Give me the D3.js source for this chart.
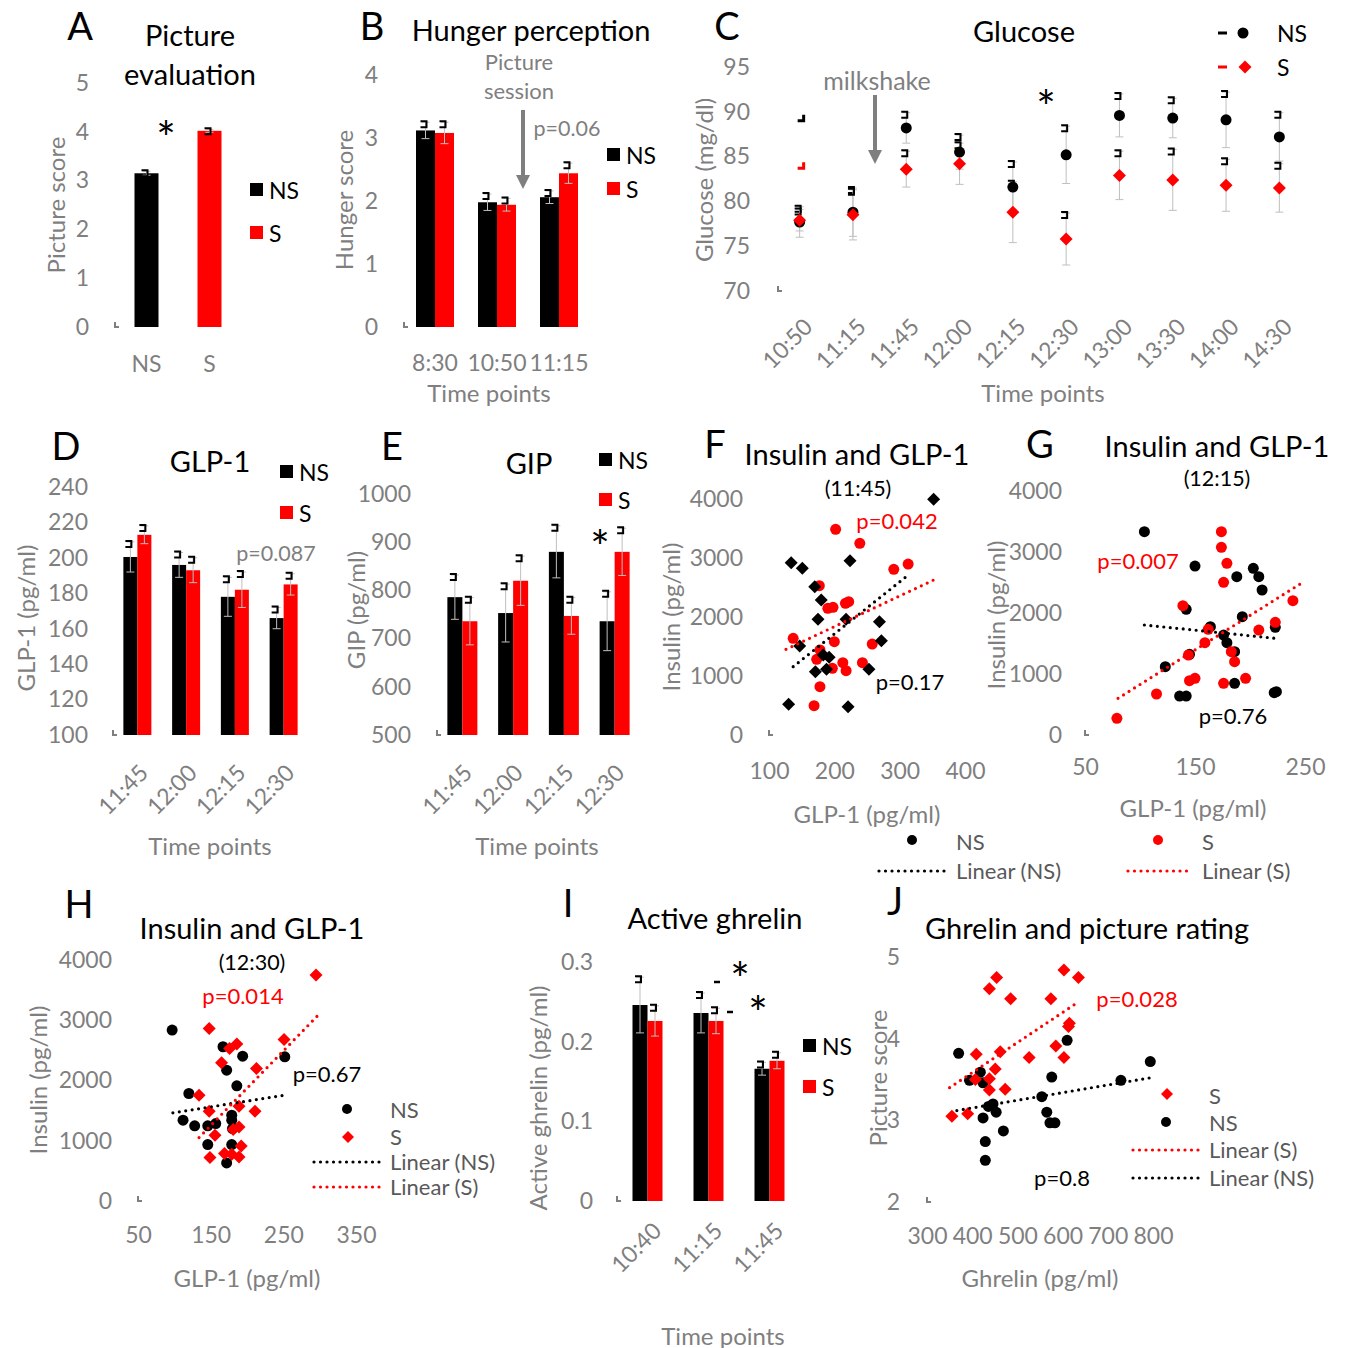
<!DOCTYPE html>
<html>
<head>
<meta charset="utf-8">
<title>Figure</title>
<script src="https://d3js.org/d3.v7.min.js"></script>
<style>body{margin:0;background:#fff}</style>
</head>
<body>
<script>
// ---------- data ----------
// A picture evaluation
var aGroups = ["NS", "S"];
var aScore = [3.15, 4.02];
var aErr = [0.04, 0.03];

// B hunger perception
var bTimes = ["8:30", "10:50", "11:15"];
var bNS = [3.12, 1.98, 2.06];
var bS = [3.08, 1.94, 2.44];
var bNSErr = [0.13, 0.13, 0.10];
var bSErr = [0.17, 0.10, 0.16];

// C glucose
var cTimes = ["10:50", "11:15", "11:45", "12:00", "12:15", "12:30", "13:00", "13:30", "14:00", "14:30"];
var cNS = [77.7, 78.8, 88.2, 85.5, 81.6, 85.2, 89.6, 89.3, 89.1, 87.2];
var cS = [77.9, 78.5, 83.6, 84.2, 78.8, 75.8, 82.9, 82.4, 81.8, 81.5];
var cNSErr = [1.7, 2.7, 1.7, 1.9, 2.8, 3.2, 2.4, 2.2, 3.1, 2.7];
var cSErr = [1.2, 2.8, 2.0, 2.3, 3.4, 2.9, 2.7, 3.4, 2.9, 2.7];

// D GLP-1
var dTimes = ["11:45", "12:00", "12:15", "12:30"];
var dNS = [200.5, 196, 178, 166];
var dS = [213, 193, 182, 185];
var dNSErr = [8.5, 7, 11, 6];
var dSErr = [5, 7, 10, 6];

// E GIP
var eTimes = ["11:45", "12:00", "12:15", "12:30"];
var eNS = [786, 753, 880, 736];
var eS = [736, 820, 747, 880];
var eNSErr = [46, 60, 54, 61];
var eSErr = [49, 51, 38, 49];

// F insulin vs GLP-1 (11:45)  [GLP-1, insulin]
var fNS = [[352, 3994], [134, 2921], [151, 2825], [224, 2955], [170, 2514], [180, 2288], [175, 1960],
  [218, 1960], [269, 1921], [272, 1599], [147, 1508], [183, 1356], [192, 1316], [171, 1073],
  [188, 1113], [253, 1113], [130, 520], [221, 480]];
var fS = [[202, 3486], [239, 3249], [291, 2808], [313, 2898], [177, 2531], [190, 2147], [198, 2164],
  [217, 2232], [222, 2260], [137, 1638], [200, 1582], [258, 1542], [178, 1441], [173, 1282],
  [197, 1130], [213, 1226], [218, 1090], [243, 1226], [178, 819], [169, 497]];
var fNSTrend = [[137, 1158], [310, 2684]];
var fSTrend = [[126, 1452], [352, 2627]];

// G insulin vs GLP-1 (12:15)
var gNS = [[104, 3333], [150, 2770], [188, 2596], [203, 2732], [208, 2596], [211, 2377], [142, 2060],
  [193, 1940], [164, 1776], [176, 1639], [179, 1514], [186, 1366], [223, 1765], [145, 1322],
  [123, 1120], [136, 639], [142, 639], [186, 847], [222, 694], [224, 710]];
var gS = [[174, 3333], [174, 3077], [179, 2814], [176, 2503], [139, 2120], [162, 1732], [159, 1514],
  [183, 1366], [186, 1202], [208, 1721], [223, 1847], [239, 2202], [145, 891], [150, 929],
  [176, 847], [196, 929], [115, 672], [79, 273], [144, 1311]];
var gNSTrend = [[104, 1803], [223, 1585]];
var gSTrend = [[80, 601], [248, 2503]];

// H insulin vs GLP-1 (12:30)
var hNS = [[97, 2837], [167, 2560], [194, 2404], [252, 2393], [172, 2172], [186, 1911], [120, 1784],
  [112, 1341], [128, 1247], [146, 1247], [157, 1285], [179, 1424], [179, 1341], [146, 936],
  [179, 936], [172, 632], [180, 1202]];
var hS = [[295, 3751], [148, 2864], [176, 2532], [186, 2604], [165, 2294], [251, 2681], [213, 2200],
  [134, 1756], [148, 1490], [189, 1573], [211, 1490], [156, 1091], [181, 1186], [189, 1230],
  [149, 720], [169, 787], [189, 731], [192, 914], [179, 776]];
var hNSTrend = [[98, 1463], [257, 1767]];
var hSTrend = [[134, 1053], [298, 3086]];

// I active ghrelin
var iTimes = ["10:40", "11:15", "11:45"];
var iNS = [0.246, 0.236, 0.166];
var iS = [0.226, 0.226, 0.176];
var iNSErr = [0.035, 0.025, 0.008];
var iSErr = [0.019, 0.016, 0.010];

// J ghrelin vs picture rating  [ghrelin, score]
var jS = [[355, 3.05], [390, 3.08], [409, 3.81], [438, 4.61], [454, 4.75], [485, 4.49], [574, 4.49],
  [603, 4.84], [635, 4.75], [615, 4.19], [613, 4.15], [585, 3.91], [603, 3.77], [526, 3.77],
  [462, 3.84], [451, 3.63], [438, 3.51], [438, 3.37], [407, 3.50], [473, 3.38]];
var jNS = [[370, 3.82], [394, 3.49], [418, 3.59], [424, 3.46], [446, 3.20], [436, 3.17], [453, 3.10],
  [424, 3.03], [469, 2.87], [429, 2.74], [429, 2.51], [554, 3.29], [576, 3.53], [565, 3.10],
  [572, 2.97], [583, 2.97], [610, 3.98], [729, 3.49], [794, 3.72]];
var jSTrend = [[350, 3.40], [635, 4.45]];
var jNSTrend = [[366, 3.12], [793, 3.52]];

// ---------- helpers ----------
var GRAY = "#7f7f7f", DARK = "#595959", RED = "#ff0000";
var FONT = "Lato, 'Open Sans', sans-serif";
var TITLE = 29, TICK = 23, AXT = 24;

var svg = d3.select("body").append("svg")
  .attr("width", 1347).attr("height", 1348)
  .style("font-family", FONT);

function text(x, y, s, size, color, anchor) {
  return svg.append("text").attr("x", x).attr("y", y)
    .attr("font-size", size).attr("fill", color || "#000")
    .attr("text-anchor", anchor || "middle").attr("dominant-baseline", "central")
    .text(s);
}
function star(x, y) {
  // asterisk glyph sits high in the em box, so shift down
  return text(x, y + 9, "*", 46, "#000");
}
function yTitle(x, y, s) {
  svg.append("text").attr("transform", "translate(" + x + "," + y + ") rotate(-90)")
    .attr("text-anchor", "middle").attr("dominant-baseline", "central")
    .attr("font-size", AXT).attr("fill", GRAY).text(s);
}
function originMark(x, y) {
  svg.append("path").attr("d", "M" + x + "," + (y - 5) + "V" + y + "H" + (x + 4))
    .attr("stroke", GRAY).attr("stroke-width", 2).attr("fill", "none");
}
function yAxis(scale, x, ticks, pad) {
  var g = svg.append("g").attr("transform", "translate(" + x + ",0)")
    .call(d3.axisLeft(scale).tickValues(ticks).tickSize(0).tickPadding(pad).tickFormat(function(d){ return String(d); }));
  g.select(".domain").remove();
  g.selectAll("text").attr("font-size", TICK).attr("fill", GRAY).attr("font-family", FONT);
}
function xAxis(scale, y, ticks, pad) {
  var g = svg.append("g").attr("transform", "translate(0," + y + ")")
    .call(d3.axisBottom(scale).tickValues(ticks).tickSize(0).tickPadding(pad).tickFormat(function(d){ return String(d); }));
  g.select(".domain").remove();
  g.selectAll("text").attr("font-size", TICK).attr("fill", GRAY).attr("font-family", FONT);
}
function slantLabels(xs, cats, y, dx) {
  svg.append("g").selectAll("text").data(cats).join("text")
    .attr("transform", function(d){ return "translate(" + (xs(d) + xs.bandwidth() / 2 + dx) + "," + y + ") rotate(-45)"; })
    .attr("text-anchor", "end").attr("dominant-baseline", "central")
    .attr("font-size", TICK).attr("fill", GRAY).text(function(d){ return d; });
}
function errBar(x, yLo, yHi) {
  svg.append("path")
    .attr("d", "M" + x + "," + yLo + "V" + yHi + "M" + (x - 4) + "," + yLo + "H" + (x + 4) + "M" + (x - 4) + "," + yHi + "H" + (x + 4))
    .attr("stroke", "#bfbfbf").attr("stroke-width", 1).attr("fill", "none");
  svg.append("path")
    .attr("d", "M" + (x - 5) + "," + (yHi - 1) + "H" + (x + 1) + "V" + (yHi + 5) + "H" + (x - 5))
    .attr("stroke", "#000").attr("stroke-width", 2).attr("fill", "none");
}
function pairBars(xs, ys, cats, ns, s, nsErr, sErr, w) {
  var base = ys.range()[0];
  var c = function(d){ return xs(d) + xs.bandwidth() / 2; };
  var g = svg.append("g");
  g.selectAll(".ns").data(cats).join("rect").attr("class", "ns")
    .attr("x", function(d){ return c(d) - w; }).attr("width", w)
    .attr("y", function(d, i){ return ys(ns[i]); })
    .attr("height", function(d, i){ return base - ys(ns[i]); }).attr("fill", "#000");
  g.selectAll(".s").data(cats).join("rect").attr("class", "s")
    .attr("x", function(d){ return c(d); }).attr("width", w)
    .attr("y", function(d, i){ return ys(s[i]); })
    .attr("height", function(d, i){ return base - ys(s[i]); }).attr("fill", RED);
  cats.forEach(function(d, i){
    errBar(c(d) - w / 2, ys(ns[i] - nsErr[i]), ys(ns[i] + nsErr[i]));
    errBar(c(d) + w / 2, ys(s[i] - sErr[i]), ys(s[i] + sErr[i]));
  });
}
function diamondPath(x, y, r) {
  return "M" + x + "," + (y - r) + "L" + (x + r) + "," + y + "L" + x + "," + (y + r) + "L" + (x - r) + "," + y + "Z";
}
function scatter(xs, ys, pts, shape, color) {
  var g = svg.append("g");
  if (shape === "circle") {
    g.selectAll("circle").data(pts).join("circle")
      .attr("cx", function(d){ return xs(d[0]); }).attr("cy", function(d){ return ys(d[1]); })
      .attr("r", 5.5).attr("fill", color);
  } else {
    g.selectAll("path").data(pts).join("path")
      .attr("d", function(d){ return diamondPath(xs(d[0]), ys(d[1]), 6.5); }).attr("fill", color);
  }
}
function dotted(path, color) {
  return path.attr("stroke", color).attr("stroke-width", 3.2).attr("stroke-dasharray", "0,6.5")
    .attr("stroke-linecap", "round").attr("fill", "none");
}
function trend(xs, ys, ends, color) {
  dotted(svg.append("path").datum(ends)
    .attr("d", d3.line().x(function(d){ return xs(d[0]); }).y(function(d){ return ys(d[1]); })), color);
}
function legendLine(x0, x1, y, color) {
  dotted(svg.append("path").attr("d", "M" + x0 + "," + y + "H" + x1), color);
}
function arrow(x, y0, y1) {
  svg.append("line").attr("x1", x).attr("x2", x).attr("y1", y0).attr("y2", y1 - 12)
    .attr("stroke", GRAY).attr("stroke-width", 4);
  svg.append("path").attr("d", "M" + (x - 7) + "," + (y1 - 14) + "L" + (x + 7) + "," + (y1 - 14) + "L" + x + "," + y1 + "Z")
    .attr("fill", GRAY);
}
function barLegend(x, y1, y2) {
  svg.append("rect").attr("x", x).attr("y", y1 - 7).attr("width", 13).attr("height", 13).attr("fill", "#000");
  svg.append("rect").attr("x", x).attr("y", y2 - 7).attr("width", 13).attr("height", 13).attr("fill", RED);
  text(x + 19, y1, "NS", 23, "#000", "start");
  text(x + 19, y2, "S", 23, "#000", "start");
}

// ---------- A ----------
var aX = d3.scaleBand().domain(aGroups).range([115, 241]);
var aY = d3.scaleLinear().domain([0, 5]).range([327, 83]);
text(80, 25, "A", 38);
text(190, 34, "Picture", TITLE);
text(190, 73, "evaluation", TITLE);
yAxis(aY, 115, [0, 1, 2, 3, 4, 5], 26);
originMark(115, 327);
svg.append("g").selectAll("rect").data(aGroups).join("rect")
  .attr("x", function(d){ return aX(d) + aX.bandwidth() / 2 - 12; }).attr("width", 24)
  .attr("y", function(d, i){ return aY(aScore[i]); })
  .attr("height", function(d, i){ return 327 - aY(aScore[i]); })
  .attr("fill", function(d, i){ return i ? RED : "#000"; });
aGroups.forEach(function(d, i){
  errBar(aX(d) + aX.bandwidth() / 2, aY(aScore[i] - aErr[i]), aY(aScore[i] + aErr[i]));
});
aGroups.forEach(function(d){ text(aX(d) + aX.bandwidth() / 2, 363, d, TICK, GRAY); });
star(166, 128);
yTitle(55, 205, "Picture score");
barLegend(250, 190, 233);

// ---------- B ----------
var bX = d3.scaleBand().domain(bTimes).range([404, 590]);
var bY = d3.scaleLinear().domain([0, 4]).range([327, 75]);
text(372, 25, "B", 38);
text(531, 29, "Hunger perception", TITLE);
yAxis(bY, 404, [0, 1, 2, 3, 4], 26);
originMark(404, 327);
pairBars(bX, bY, bTimes, bNS, bS, bNSErr, bSErr, 19);
bTimes.forEach(function(d){ text(bX(d) + bX.bandwidth() / 2, 362, d, TICK, GRAY); });
text(489, 392, "Time points", AXT, GRAY);
yTitle(343, 200, "Hunger score");
text(519, 61, "Picture", 22, GRAY);
text(519, 90, "session", 22, GRAY);
arrow(523, 110, 189);
text(567, 128, "p=0.06", 21.5, GRAY);
barLegend(607, 155, 189);

// ---------- C ----------
var cX = d3.scaleBand().domain(cTimes).range([773, 1306]);
var cY = d3.scaleLinear().domain([70, 95]).range([291, 67]);
var cc = function(d){ return cX(d) + cX.bandwidth() / 2; };
text(727, 25, "C", 38);
text(1024, 30, "Glucose", TITLE);
yAxis(cY, 778, [70, 75, 80, 85, 90, 95], 28);
originMark(778, 291);
cTimes.forEach(function(d, i){
  errBar(cc(d), cY(cNS[i] - cNSErr[i]), cY(cNS[i] + cNSErr[i]));
  errBar(cc(d), cY(cS[i] - cSErr[i]), cY(cS[i] + cSErr[i]));
});
svg.append("g").selectAll("circle").data(cTimes).join("circle")
  .attr("cx", cc).attr("cy", function(d, i){ return cY(cNS[i]); }).attr("r", 5.5).attr("fill", "#000");
svg.append("g").selectAll("path").data(cTimes).join("path")
  .attr("d", function(d, i){ return diamondPath(cc(d), cY(cS[i]), 6.5); }).attr("fill", RED);
// stray key marks beside first point
[[89, "#000"], [83.7, RED]].forEach(function(m){
  var x = cc(cTimes[0]) + 4, y = cY(m[0]);
  svg.append("path").attr("d", "M" + x + "," + (y - 6) + "V" + y + "H" + (x - 6))
    .attr("stroke", m[1]).attr("stroke-width", 3).attr("fill", "none");
});
slantLabels(cX, cTimes, 322, 8);
text(1043, 392, "Time points", AXT, GRAY);
yTitle(703, 180, "Glucose (mg/dl)");
text(877, 80, "milkshake", 25, GRAY);
arrow(875, 95, 164);
star(1046, 97);
svg.append("line").attr("x1", 1218).attr("x2", 1227).attr("y1", 33).attr("y2", 33).attr("stroke", "#000").attr("stroke-width", 3);
svg.append("circle").attr("cx", 1243).attr("cy", 33).attr("r", 5.5).attr("fill", "#000");
svg.append("line").attr("x1", 1218).attr("x2", 1227).attr("y1", 67).attr("y2", 67).attr("stroke", RED).attr("stroke-width", 3);
svg.append("path").attr("d", diamondPath(1245, 67, 6.5)).attr("fill", RED);
text(1277, 33, "NS", 23, "#000", "start");
text(1277, 67, "S", 23, "#000", "start");

// ---------- D ----------
var dX = d3.scaleBand().domain(dTimes).range([113, 308]);
var dY = d3.scaleLinear().domain([100, 240]).range([735, 487]);
text(66, 445, "D", 38);
text(210, 460, "GLP-1", TITLE);
yAxis(dY, 113, d3.range(100, 241, 20), 25);
originMark(113, 735);
pairBars(dX, dY, dTimes, dNS, dS, dNSErr, dSErr, 14);
slantLabels(dX, dTimes, 768, 6);
text(210, 845, "Time points", AXT, GRAY);
yTitle(25, 618, "GLP-1 (pg/ml)");
text(276, 553, "p=0.087", 21.5, GRAY);
barLegend(280, 472, 513);

// ---------- E ----------
var eX = d3.scaleBand().domain(eTimes).range([437, 640]);
var eY = d3.scaleLinear().domain([500, 1000]).range([735, 494]);
text(392, 445, "E", 38);
text(529, 462, "GIP", TITLE);
yAxis(eY, 437, [500, 600, 700, 800, 900, 1000], 26);
originMark(437, 735);
pairBars(eX, eY, eTimes, eNS, eS, eNSErr, eSErr, 15);
slantLabels(eX, eTimes, 768, 5);
text(537, 845, "Time points", AXT, GRAY);
yTitle(355, 610, "GIP (pg/ml)");
star(600, 537);
barLegend(599, 460, 500);

// ---------- F ----------
var fX = d3.scaleLinear().domain([100, 400]).range([769, 965]);
var fY = d3.scaleLinear().domain([0, 4000]).range([735, 499]);
text(715, 443, "F", 38);
text(857, 453, "Insulin and GLP-1", TITLE);
text(858, 488, "(11:45)", 21.5);
yAxis(fY, 769, [0, 1000, 2000, 3000, 4000], 26);
xAxis(fX, 735, [100, 200, 300, 400], 28);
originMark(769, 735);
scatter(fX, fY, fS, "circle", RED);
scatter(fX, fY, fNS, "diamond", "#000");
trend(fX, fY, fNSTrend, "#000");
trend(fX, fY, fSTrend, RED);
text(897, 520, "p=0.042", 22, RED);
text(910, 681, "p=0.17", 22, "#000");
yTitle(670, 617, "Insulin (pg/ml)");
text(867, 813, "GLP-1 (pg/ml)", AXT, GRAY);

// ---------- G ----------
var gX = d3.scaleLinear().domain([50, 250]).range([1085, 1305]);
var gY = d3.scaleLinear().domain([0, 4000]).range([735, 491]);
text(1040, 443, "G", 38);
text(1217, 445, "Insulin and GLP-1", TITLE);
text(1217, 478, "(12:15)", 21.5);
yAxis(gY, 1085, [0, 1000, 2000, 3000, 4000], 23);
xAxis(gX, 735, [50, 150, 250], 24);
originMark(1085, 735);
scatter(gX, gY, gNS, "circle", "#000");
scatter(gX, gY, gS, "circle", RED);
trend(gX, gY, gNSTrend, "#000");
trend(gX, gY, gSTrend, RED);
text(1138, 560, "p=0.007", 22, RED);
text(1233, 715, "p=0.76", 22, "#000");
yTitle(995, 615, "Insulin (pg/ml)");
text(1193, 807, "GLP-1 (pg/ml)", AXT, GRAY);

// shared legend F/G
svg.append("circle").attr("cx", 912).attr("cy", 840).attr("r", 5).attr("fill", "#000");
text(956, 841, "NS", 22, DARK, "start");
legendLine(879, 946, 871, "#000");
text(956, 870, "Linear (NS)", 22, DARK, "start");
svg.append("circle").attr("cx", 1158).attr("cy", 840).attr("r", 5).attr("fill", RED);
text(1202, 841, "S", 22, DARK, "start");
legendLine(1128, 1193, 871, RED);
text(1202, 870, "Linear (S)", 22, DARK, "start");

// ---------- H ----------
var hX = d3.scaleLinear().domain([50, 350]).range([138, 356]);
var hY = d3.scaleLinear().domain([0, 4000]).range([1201, 960]);
text(79, 903, "H", 38);
text(252, 927, "Insulin and GLP-1", TITLE);
text(252, 962, "(12:30)", 21.5);
yAxis(hY, 138, [0, 1000, 2000, 3000, 4000], 26);
xAxis(hX, 1201, [50, 150, 250, 350], 26);
originMark(138, 1201);
scatter(hX, hY, hNS, "circle", "#000");
scatter(hX, hY, hS, "diamond", RED);
trend(hX, hY, hNSTrend, "#000");
trend(hX, hY, hSTrend, RED);
text(243, 995, "p=0.014", 22, RED);
text(327, 1073, "p=0.67", 22, "#000");
yTitle(37, 1080, "Insulin (pg/ml)");
text(247, 1277, "GLP-1 (pg/ml)", AXT, GRAY);
svg.append("circle").attr("cx", 347).attr("cy", 1109).attr("r", 5).attr("fill", "#000");
svg.append("path").attr("d", diamondPath(348, 1137, 6)).attr("fill", RED);
legendLine(314, 380, 1162, "#000");
legendLine(314, 380, 1187, RED);
text(390, 1109, "NS", 22, DARK, "start");
text(390, 1136, "S", 22, DARK, "start");
text(390, 1161, "Linear (NS)", 22, DARK, "start");
text(390, 1186, "Linear (S)", 22, DARK, "start");

// ---------- I ----------
var iX = d3.scaleBand().domain(iTimes).range([617, 800]);
var iY = d3.scaleLinear().domain([0, 0.3]).range([1201, 962]);
text(568, 902, "I", 38);
text(715, 917, "Active ghrelin", TITLE);
yAxis(iY, 617, [0, 0.1, 0.2, 0.3], 24);
originMark(617, 1201);
pairBars(iX, iY, iTimes, iNS, iS, iNSErr, iSErr, 15);
slantLabels(iX, iTimes, 1226, 9);
text(723, 1335, "Time points", AXT, GRAY);
yTitle(537, 1098, "Active ghrelin (pg/ml)");
svg.append("line").attr("x1", 714).attr("x2", 720).attr("y1", 982).attr("y2", 982).attr("stroke", "#000").attr("stroke-width", 2.5);
svg.append("line").attr("x1", 727).attr("x2", 733).attr("y1", 1012).attr("y2", 1012).attr("stroke", "#000").attr("stroke-width", 2.5);
star(740, 969);
star(758, 1003);
barLegend(803, 1046, 1087);

// ---------- J ----------
var jX = d3.scaleLinear().domain([300, 800]).range([927, 1153]);
var jY = d3.scaleLinear().domain([2, 5]).range([1202, 957]);
text(895, 900, "J", 38);
text(1087, 927, "Ghrelin and picture rating", TITLE);
yAxis(jY, 927, [2, 3, 4, 5], 27);
xAxis(jX, 1202, [300, 400, 500, 600, 700, 800], 26);
originMark(927, 1202);
scatter(jX, jY, jNS, "circle", "#000");
scatter(jX, jY, jS, "diamond", RED);
trend(jX, jY, jSTrend, RED);
trend(jX, jY, jNSTrend, "#000");
text(1137, 998, "p=0.028", 22, RED);
text(1062, 1177, "p=0.8", 22, "#000");
yTitle(877, 1078, "Picture score");
text(1040, 1277, "Ghrelin (pg/ml)", AXT, GRAY);
svg.append("path").attr("d", diamondPath(1167, 1094, 6)).attr("fill", RED);
svg.append("circle").attr("cx", 1166).attr("cy", 1122).attr("r", 5).attr("fill", "#000");
legendLine(1133, 1200, 1150, RED);
legendLine(1133, 1200, 1178, "#000");
text(1209, 1095, "S", 22, DARK, "start");
text(1209, 1122, "NS", 22, DARK, "start");
text(1209, 1149, "Linear (S)", 22, DARK, "start");
text(1209, 1177, "Linear (NS)", 22, DARK, "start");
</script>
</body>
</html>
